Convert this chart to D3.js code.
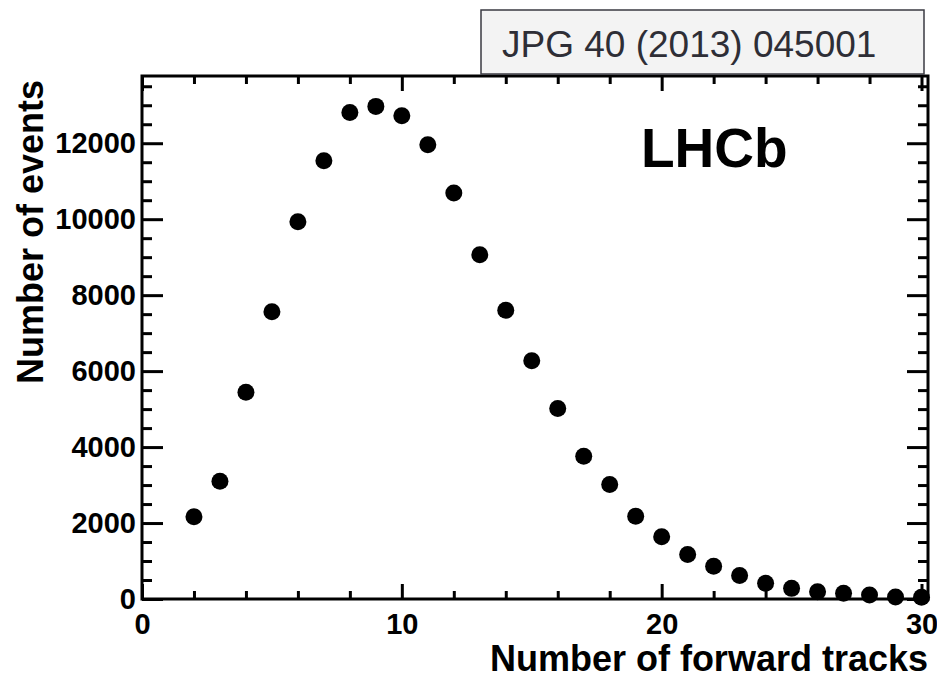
<!DOCTYPE html>
<html>
<head>
<meta charset="utf-8">
<script src="https://cdn.jsdelivr.net/npm/d3@7"></script>
<style>
  html, body { margin: 0; padding: 0; background: #fff; }
  svg { display: block; font-family: "Liberation Sans", Arial, Helvetica, sans-serif; }
</style>
</head>
<body>
<div class="chart"></div>
<script>
// number of forward tracks per event (x) and number of events (y)
const tracks = [2, 3, 4, 5, 6, 7, 8, 9, 10, 11, 12, 13, 14, 15, 16,
  17, 18, 19, 20, 21, 22, 23, 24, 25, 26, 27, 28, 29, 30];
const events = [2165, 3100, 5445, 7560, 9930, 11540, 12810, 12970, 12725, 11960, 10690, 9065, 7600, 6275, 5015,
  3760, 3015, 2180, 1640, 1170, 865, 620, 415, 280, 190, 150, 105, 50, 45];

const xTicks = [0, 10, 20, 30];
const yTicks = [0, 2000, 4000, 6000, 8000, 10000, 12000];

const xTitle = 'Number of forward tracks';
const yTitle = 'Number of events';
const experiment = 'LHCb';
const reference = 'JPG 40 (2013) 045001';

const W = 937;
const H = 680;
const margin = { top: 76, right: 9, bottom: 81, left: 142 };
const width = W - margin.left - margin.right;
const height = H - margin.top - margin.bottom;

const svg = d3.select('.chart')
  .append('svg')
  .attr('width', W)
  .attr('height', H);

const g = svg.append('g')
  .attr('transform', `translate(${margin.left}, ${margin.top})`);

const xScale = d3.scaleLinear()
  .domain([0, 30.25])
  .range([0, width]);

const yScale = d3.scaleLinear()
  .domain([0, 13770])
  .range([height, 0]);

// minor tick positions (every 2 tracks, every 500 events)
const xMinor = d3.range(2, 30, 2).filter(v => v % 10 !== 0);
const yMinor = d3.range(500, 13770, 500).filter(v => v % 2000 !== 0);

const fontSize = 29;

function styleAxis(sel) {
  sel.select('.domain').remove();
  sel.selectAll('line').attr('stroke', '#000').attr('stroke-width', 3);
  sel.selectAll('text')
    .attr('fill', '#000')
    .style('font-size', fontSize + 'px')
    .style('font-weight', 'bold')
    .style('font-family', '"Liberation Sans", Arial, Helvetica, sans-serif');
}

// bottom axis, ticks pointing inward
g.append('g')
  .attr('transform', `translate(0, ${height})`)
  .call(d3.axisBottom(xScale).tickValues(xMinor).tickSizeInner(-8).tickSizeOuter(0).tickFormat(''))
  .call(styleAxis);

g.append('g')
  .attr('transform', `translate(0, ${height})`)
  .call(d3.axisBottom(xScale).tickValues(xTicks).tickSizeInner(-15).tickSizeOuter(0).tickPadding(14).tickFormat(d3.format('d')))
  .call(styleAxis);

// top axis, no labels
g.append('g')
  .call(d3.axisTop(xScale).tickValues(xMinor).tickSizeInner(-8).tickSizeOuter(0).tickFormat(''))
  .call(styleAxis);

g.append('g')
  .call(d3.axisTop(xScale).tickValues(xTicks).tickSizeInner(-15).tickSizeOuter(0).tickFormat(''))
  .call(styleAxis);

// left axis
g.append('g')
  .call(d3.axisLeft(yScale).tickValues(yMinor).tickSizeInner(-10).tickSizeOuter(0).tickFormat(''))
  .call(styleAxis);

g.append('g')
  .call(d3.axisLeft(yScale).tickValues(yTicks).tickSizeInner(-21).tickSizeOuter(0).tickPadding(6).tickFormat(d3.format('d')))
  .call(styleAxis);

// right axis
g.append('g')
  .attr('transform', `translate(${width}, 0)`)
  .call(d3.axisRight(yScale).tickValues(yMinor).tickSizeInner(-10).tickSizeOuter(0).tickFormat(''))
  .call(styleAxis);

g.append('g')
  .attr('transform', `translate(${width}, 0)`)
  .call(d3.axisRight(yScale).tickValues(yTicks).tickSizeInner(-21).tickSizeOuter(0).tickFormat(''))
  .call(styleAxis);

// frame
g.append('rect')
  .attr('x', 0)
  .attr('y', 0)
  .attr('width', width)
  .attr('height', height)
  .attr('fill', 'none')
  .attr('stroke', '#000')
  .attr('stroke-width', 3);

// data points
g.append('g')
  .selectAll('circle')
  .data(tracks.map((t, i) => ({ t, n: events[i] })))
  .join('circle')
  .attr('cx', d => xScale(d.t))
  .attr('cy', d => yScale(d.n))
  .attr('r', 8.5)
  .attr('fill', '#000');

// axis titles
svg.append('text')
  .attr('x', 928)
  .attr('y', 671)
  .attr('text-anchor', 'end')
  .style('font-size', '36px')
  .style('font-weight', 'bold')
  .text(xTitle);

svg.append('text')
  .attr('transform', 'translate(43, 80) rotate(-90)')
  .attr('text-anchor', 'end')
  .style('font-size', '36px')
  .style('font-weight', 'bold')
  .text(yTitle);

// experiment label
svg.append('text')
  .attr('x', 641)
  .attr('y', 167)
  .style('font-size', '55px')
  .style('font-weight', 'bold')
  .text(experiment);

// reference box
svg.append('rect')
  .attr('x', 481)
  .attr('y', 10)
  .attr('width', 443)
  .attr('height', 64)
  .attr('fill', '#f3f3f3')
  .attr('stroke', '#3a3a42')
  .attr('stroke-width', 1.5);

svg.append('text')
  .attr('x', 502)
  .attr('y', 57)
  .attr('fill', '#2e2e36')
  .style('font-size', '37px')
  .text(reference);
</script>
</body>
</html>
